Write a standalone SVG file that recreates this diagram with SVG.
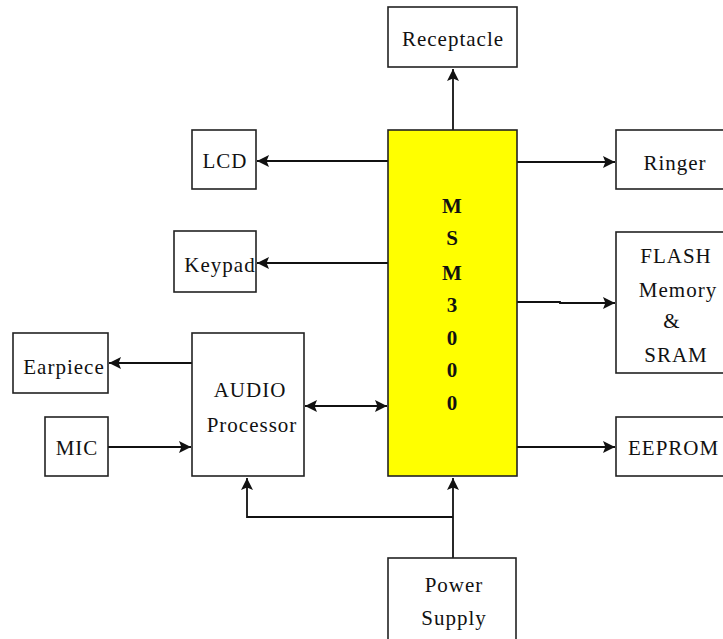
<svg xmlns="http://www.w3.org/2000/svg" width="723" height="639" viewBox="0 0 723 639">
<style>
.box{fill:#fff;stroke:#222;stroke-width:1.6}
.chip{fill:#ffff00;stroke:#222;stroke-width:1.6}
.t{font-family:'Liberation Serif','DejaVu Serif','Times New Roman',serif;font-size:21px;letter-spacing:1px;fill:#111;text-anchor:middle}
.b{font-family:'Liberation Serif','DejaVu Serif','Times New Roman',serif;font-size:21px;font-weight:bold;fill:#111;text-anchor:middle}
.c{fill:none;stroke:#111;stroke-width:1.8}
</style>
<defs>
<marker id="ah" viewBox="0 0 10 10" refX="10" refY="5" markerWidth="12" markerHeight="12" markerUnits="userSpaceOnUse" orient="auto-start-reverse">
<path d="M0,0 L10,5 L0,10 L2,5 Z" fill="#111"/>
</marker>
</defs>
<rect width="723" height="639" fill="#fff"/>
<g id="connectors">
<line class="c" x1="453" y1="130" x2="453" y2="69" marker-end="url(#ah)"/>
<line class="c" x1="388" y1="161" x2="257" y2="161" marker-end="url(#ah)"/>
<line class="c" x1="388" y1="263" x2="257" y2="263" marker-end="url(#ah)"/>
<line class="c" x1="192" y1="363" x2="109" y2="363" marker-end="url(#ah)"/>
<line class="c" x1="108" y1="447" x2="191" y2="447" marker-end="url(#ah)"/>
<line class="c" x1="305" y1="406" x2="387" y2="406" marker-start="url(#ah)" marker-end="url(#ah)"/>
<line class="c" x1="517" y1="162" x2="615" y2="162" marker-end="url(#ah)"/>
<polyline class="c" points="517,302 560,302 560,303 615,303" marker-end="url(#ah)"/>
<line class="c" x1="517" y1="447" x2="615" y2="447" marker-end="url(#ah)"/>
<line class="c" x1="453" y1="558" x2="453" y2="478" marker-end="url(#ah)"/>
<polyline class="c" points="453,517 247,517 247,478" marker-end="url(#ah)"/>
</g>
<g id="receptacle"><rect class="box" x="388" y="7" width="129" height="60"/><text class="t" x="453" y="46">Receptacle</text></g>
<g id="msm3000"><rect class="chip" x="388" y="130" width="129" height="346"/>
<text class="b" x="452" y="213">M</text><text class="b" x="452" y="245">S</text><text class="b" x="452" y="280">M</text><text class="b" x="452" y="312">3</text><text class="b" x="452" y="345">0</text><text class="b" x="452" y="377">0</text><text class="b" x="452" y="410">0</text></g>
<g id="lcd"><rect class="box" x="192" y="130" width="64" height="59"/><text class="t" x="225" y="168">LCD</text></g>
<g id="keypad"><rect class="box" x="174" y="231" width="82" height="61"/><text class="t" x="220" y="272">Keypad</text></g>
<g id="earpiece"><rect class="box" x="13" y="333" width="95" height="60"/><text class="t" x="64" y="374">Earpiece</text></g>
<g id="mic"><rect class="box" x="45" y="417" width="63" height="59"/><text class="t" x="77" y="455">MIC</text></g>
<g id="audio"><rect class="box" x="192" y="333" width="112" height="143"/><text class="t" x="250" y="397">AUDIO</text><text class="t" x="252" y="432">Processor</text></g>
<g id="ringer"><rect class="box" x="616" y="130" width="120" height="59"/><text class="t" x="675" y="170">Ringer</text></g>
<g id="flash"><rect class="box" x="616" y="232" width="120" height="141"/><text class="t" x="676" y="263">FLASH</text><text class="t" x="678" y="297">Memory</text><text class="t" x="672" y="328">&amp;</text><text class="t" x="676" y="362">SRAM</text></g>
<g id="eeprom"><rect class="box" x="616" y="417" width="120" height="59"/><text class="t" x="628" y="455" style="text-anchor:start">EEPROM</text></g>
<g id="power"><rect class="box" x="388" y="558" width="128" height="90"/><text class="t" x="454" y="592">Power</text><text class="t" x="454" y="625">Supply</text></g>
</svg>
